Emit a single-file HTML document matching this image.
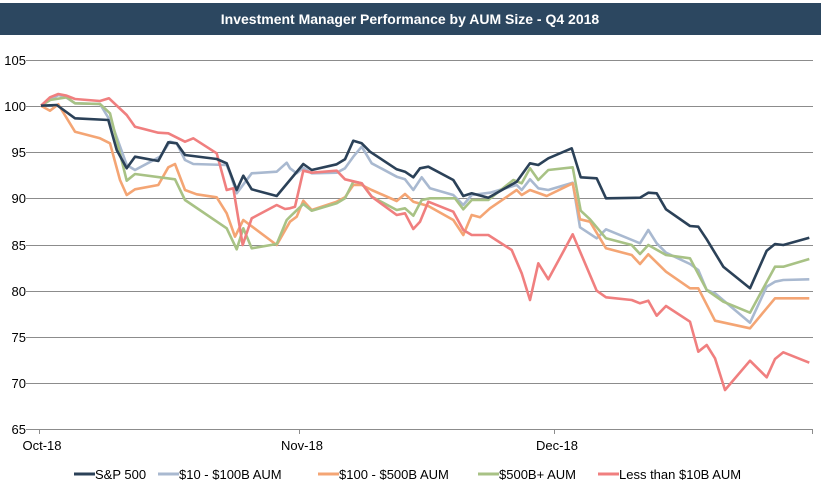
<!DOCTYPE html>
<html><head><meta charset="utf-8"><style>
body{margin:0;background:#fff;width:821px;height:493px;overflow:hidden;font-family:"Liberation Sans",Arial,sans-serif}
</style></head><body>
<svg width="821" height="493" xmlns="http://www.w3.org/2000/svg" font-family="Liberation Sans, Arial, sans-serif">
<rect x="0" y="3" width="821" height="32" fill="#2c4760"/>
<text x="410" y="24" fill="#fff" font-size="14" font-weight="bold" text-anchor="middle">Investment Manager Performance by AUM Size - Q4 2018</text>
<g stroke="#8c8c8c" stroke-width="1">
<line x1="26" x2="813" y1="60.5" y2="60.5"/>
<line x1="26" x2="813" y1="106.5" y2="106.5"/>
<line x1="26" x2="813" y1="152.5" y2="152.5"/>
<line x1="26" x2="813" y1="198.5" y2="198.5"/>
<line x1="26" x2="813" y1="245.5" y2="245.5"/>
<line x1="26" x2="813" y1="291.5" y2="291.5"/>
<line x1="26" x2="813" y1="337.5" y2="337.5"/>
<line x1="26" x2="813" y1="383.5" y2="383.5"/>
<line x1="26" x2="813" y1="429.5" y2="429.5"/>
<line x1="39.5" x2="39.5" y1="429" y2="434"/>
<line x1="299.5" x2="299.5" y1="429" y2="434"/>
<line x1="554.5" x2="554.5" y1="429" y2="434"/>
<line x1="812.5" x2="812.5" y1="429" y2="434"/>
</g>
<g font-size="13" fill="#000" text-anchor="end">
<text x="26" y="65">105</text><text x="26" y="111">100</text><text x="26" y="157">95</text>
<text x="26" y="203">90</text><text x="26" y="250">85</text><text x="26" y="296">80</text>
<text x="26" y="342">75</text><text x="26" y="388">70</text><text x="26" y="434">65</text>
</g>
<g font-size="13" fill="#000" text-anchor="middle">
<text x="42" y="450">Oct-18</text><text x="302" y="450">Nov-18</text><text x="557" y="450">Dec-18</text>
</g>
<g fill="none" stroke-width="2.6" stroke-linejoin="round">
<polyline stroke="#a9b9d0" points="41,105.7 58.3,95 65,96.7 75,103.3 100,104 111.7,123.3 126.7,165 135,170 160,156.7 170,141.7 176.7,143.3 185,160 193.3,164 226.7,165 230,173.3 236.7,193.3 251.7,173.3 276.7,171.7 286.7,162.7 290,168.3 296.7,173.3 303.3,167.7 311.7,173.3 336.7,172.7 345,168.3 353.3,156.7 361.7,146.7 371.7,163.3 396.7,176.7 405,179.3 413.3,190 421.7,177.3 430,188.3 453.3,195 463.3,205 471.7,195 490,192.7 516.7,185 521.7,190 530,179.3 538.3,188.3 548.3,190 572.7,182.7 580,227.3 596.7,238.3 606,229.3 640,243.3 648.3,230 656.7,243.3 666,252.7 690,264 698.3,270 706.7,290 715,293.3 750,322.7 766.7,286.7 775,281.7 783.3,280 809.3,279.3"/>
<polyline stroke="#f4a574" points="41,105.7 50,110.7 58.3,104.3 75,131.7 100,138.3 110,143.3 120,180 126.7,195 135,189.3 158.3,185 168.3,167.3 175,164 185,190 196.7,194.3 216.7,197.3 226.7,213.3 235,236.7 243.3,220 276.7,245 290,221.7 296.7,216.7 303.3,200.7 311.7,210 336.7,201.7 345,197.3 353.3,185 361.7,185 371.7,190 396.7,201 405,194 413.3,201.7 428.3,206 453.3,220 463.3,235 471.7,215 480,217.3 490,208.3 516.7,190 521.7,195 530,190 546.7,196 572.7,183.3 580,219.3 590,221.7 606,248.3 631.7,255 640,264 648.3,254.3 666,271.7 690,288.3 698.3,288.3 715,320.7 750,328.3 775,298.3 809.3,298.3"/>
<polyline stroke="#a8c285" points="41,105.7 50,100 66.7,97.3 75,103.3 100,104 110,113.3 118.3,146.7 126.7,180.7 135,174 175,179.3 185,200 226.7,228.3 236.7,249.3 243.3,228.3 251.7,248.3 276.7,244 286.7,220 290,216.7 303.3,204 311.7,210.7 336.7,203.3 345,198.3 353.3,181.7 361.7,183.3 371.7,196.7 396.7,210 405,208.3 413.3,215.7 421.7,200 430,198.3 455,198.3 463.3,209.3 471.7,200 488.3,200 513.3,180 521.7,183.3 530,168.3 538.3,180 548.3,170 572.7,167.3 580.7,210.7 590,219.3 606,238.3 631.7,245 640,254 648.3,245 666,255 690,258.3 706.7,290 723.3,301.7 750,312.7 775,266.7 783.3,266.7 809.3,259"/>
<polyline stroke="#f07f7f" points="41,105.7 50,97.3 58.3,94 66.7,95.7 75,99 100,101 109,98.3 126.7,115 135,126.7 158.3,132.7 168.3,133.3 185,141.7 193.3,138.3 216.7,153.3 226.7,190 233.3,188.3 242.7,245 251.7,218.3 276.7,205 285,209 290,208.3 295,206.7 303.3,170.7 311.7,172.7 336.7,170.7 345,179.3 361.7,183.3 371.7,196.7 396.7,215 405,213.3 413.3,229 420,221.7 428.3,201.7 453.3,211.7 463.3,230 471.7,235 488.3,235 511.7,250 521.7,273.3 530,300 538.3,263.3 548.3,279.3 572.7,234.3 596.7,290.7 606,297.3 631.7,300 640,303.3 648.3,300.7 656.7,315.7 666,306 690,321.7 698.3,351.7 706.7,345 715,358.3 725,390 750,360.7 766.7,377.3 775,359 783.3,352.3 809.3,362.7"/>
<polyline stroke="#2b4158" points="41,105.7 56.7,105 75,118.3 108.3,120 116.7,150 126.7,168.3 135,156.7 158.3,161 168.3,142.3 176.7,143.3 185,155 216.7,159 226.7,163.3 236.7,190 243.3,175.7 251.7,189.3 276.7,196 290,180 303.3,164 311.7,170 336.7,164.3 345,159.3 353.3,140.7 361.7,143.3 370,151.7 396.7,169.3 405,171.7 413.3,177.3 420,168.3 428.3,166.7 453.3,180 463.3,196 471.7,193.3 488.3,197.7 516.7,181.7 530,163.3 538.3,165 548.3,158.3 571.7,148.3 580.7,177.3 596.7,178.3 606,198.3 640,197.7 648.3,192.7 656.7,193.3 666,209.3 690,226 698.3,226.7 706.7,239.3 723.3,266.7 750,288.3 766.7,250.7 775,244 783.3,245 809.3,237.7"/>
</g>
<g stroke-width="3">
<line x1="74" x2="95" y1="474" y2="474" stroke="#2b4158"/>
<line x1="158" x2="179" y1="474" y2="474" stroke="#a9b9d0"/>
<line x1="318" x2="339" y1="474" y2="474" stroke="#f4a574"/>
<line x1="478" x2="499" y1="474" y2="474" stroke="#a8c285"/>
<line x1="598" x2="619" y1="474" y2="474" stroke="#f07f7f"/>
</g>
<g font-size="13" fill="#000">
<text x="95" y="479">S&amp;P 500</text>
<text x="179" y="479">$10 - $100B AUM</text>
<text x="339" y="479">$100 - $500B AUM</text>
<text x="499" y="479">$500B+ AUM</text>
<text x="619" y="479">Less than $10B AUM</text>
</g>
</svg>
</body></html>
